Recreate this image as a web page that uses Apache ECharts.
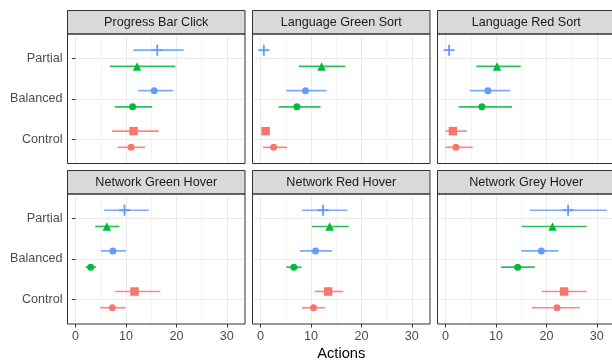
<!DOCTYPE html>
<html><head><meta charset="utf-8">
<script src="https://cdn.jsdelivr.net/npm/echarts@6/dist/echarts.min.js"></script>
<style>html,body{margin:0;padding:0;background:#fff}#c{width:612px;height:361px}</style>
</head><body><div id="c"></div>
<script>
// ---------- data ----------
const facets = ['Progress Bar Click','Language Green Sort','Language Red Sort','Network Green Hover','Network Red Hover','Network Grey Hover'];
const categories = ['Control','Balanced','Partial'];
const xTicks = [0,10,20,30];
const xMinorTicks = [5,15,25];
// [estimate, lower, upper] per facet
const controlLower  = [[11.0,8.4,13.8],[2.6,0.5,5.25],[2.05,0.0,5.4],[7.3,4.9,9.9],[10.5,8.2,12.8],[22.1,17.1,26.6]];
const controlUpper  = [[11.5,7.2,16.5],[1.0,0.7,1.3],[1.45,0.0,4.2],[11.7,7.8,16.8],[13.4,10.8,16.4],[23.5,19.1,28.0]];
const balancedLower = [[11.3,7.8,15.2],[7.2,3.6,11.9],[7.2,2.6,13.2],[3.0,2.0,4.1],[6.6,5.1,8.1],[14.3,11.0,17.7]];
const balancedUpper = [[15.6,12.4,19.3],[8.9,5.1,13.1],[8.4,4.8,12.8],[7.4,5.0,10.0],[10.9,7.8,14.2],[19.0,15.0,22.4]];
const partialLower  = [[12.2,6.8,19.8],[12.1,7.6,16.8],[10.2,6.1,14.9],[6.2,3.9,8.7],[13.7,10.2,17.5],[21.2,15.1,28.0]];
const partialUpper  = [[16.2,11.5,21.4],[0.65,0.45,0.85],[0.7,0.5,0.9],[9.7,5.6,14.5],[12.4,8.2,17.2],[24.3,16.7,32.0]];

// ---------- styling / layout ----------
const RED = '#F8766D', GREEN = '#00BA38', BLUE = '#619CFF';
const PLUS = 'path://M5,0H7V5H12V7H7V12H5V7H0V5H5Z';
const groups = [
  {data: controlLower,  cat: 0, side: -1, color: RED,   symbol: 'circle',   size: 7},
  {data: controlUpper,  cat: 0, side:  1, color: RED,   symbol: 'rect',     size: 8.5},
  {data: balancedLower, cat: 1, side: -1, color: GREEN, symbol: 'circle',   size: 7},
  {data: balancedUpper, cat: 1, side:  1, color: BLUE,  symbol: 'circle',   size: 7},
  {data: partialLower,  cat: 2, side: -1, color: GREEN, symbol: 'triangle', size: 8.5},
  {data: partialUpper,  cat: 2, side:  1, color: BLUE,  symbol: PLUS,       size: 11}
];
const DODGE = 0.2;
const FONT = "'Liberation Sans', Arial, Helvetica, sans-serif";
const colLeft = [67.5, 252.5, 437.5];
const panelW = 177.5;
const rowTop = [34, 194];
const panelH = [129.5, 130];
const stripH = 23.5;
const XMIN = -1.6, XMAX = 33.6;
const FS = 12.6;

const grids = [], xAxes = [], yAxes = [], series = [], graphics = [];
facets.forEach((name, i) => {
  const r = Math.floor(i / 3), c = i % 3;
  const bottom = r === 1, left = c === 0;
  grids.push({left: colLeft[c], top: rowTop[r], width: panelW, height: panelH[r],
    show: true, backgroundColor: '#fff', borderWidth: 0, containLabel: false, outerBoundsMode: 'none'});
  xAxes.push({type: 'value', gridIndex: i, min: XMIN, max: XMAX, position: 'bottom',
    axisLine: {show: false},
    axisTick: {show: bottom, customValues: xTicks, length: 3.5, lineStyle: {color: '#333333', width: 1}},
    axisLabel: {show: bottom, customValues: xTicks, margin: 6, color: '#4D4D4D', fontSize: FS, fontFamily: FONT},
    splitLine: {show: true, lineStyle: {color: '#EBEBEB', width: 1}},
    name: (i === 4) ? 'Actions' : '', nameLocation: 'middle', nameGap: 22,
    nameTextStyle: {color: '#000', fontSize: 14.7, fontFamily: FONT}});
  xAxes.push({type: 'value', gridIndex: i, min: XMIN, max: XMAX, position: 'top',
    axisLine: {show: false}, axisLabel: {show: false},
    axisTick: {show: false, customValues: xMinorTicks},
    splitLine: {show: true, lineStyle: {color: '#F4F4F4', width: 1}}});
  yAxes.push({type: 'value', gridIndex: i, min: 0.4, max: 3.6,
    axisLine: {show: false},
    axisTick: {show: left, customValues: [1,2,3], length: 3.5, lineStyle: {color: '#333333', width: 1}},
    axisLabel: {show: left, customValues: [1,2,3], margin: 5, color: '#4D4D4D', fontSize: FS, fontFamily: FONT,
      formatter: v => categories[Math.round(v) - 1]},
    splitLine: {show: true, lineStyle: {color: '#EBEBEB', width: 1}}});

  groups.forEach(g => {
    const d = g.data[i];
    const y = g.cat + 1 + g.side * DODGE;
    series.push({type: 'custom', xAxisIndex: 2 * i, yAxisIndex: i, silent: true, z: 3,
      encode: {x: [0, 1], y: 2},
      data: [[d[1], d[2], y]],
      renderItem: (params, api) => {
        const p1 = api.coord([api.value(0), api.value(2)]);
        const p2 = api.coord([api.value(1), api.value(2)]);
        return {type: 'line', shape: {x1: p1[0], y1: p1[1], x2: p2[0], y2: p2[1]},
          style: {stroke: g.color, lineWidth: 1.7, opacity: 0.85}};
      }});
    series.push({type: 'scatter', xAxisIndex: 2 * i, yAxisIndex: i, silent: true, z: 4,
      symbol: g.symbol, symbolSize: g.size,
      itemStyle: {color: g.color, opacity: 1},
      data: [[d[0], y]]});
  });

  graphics.push({type: 'rect', shape: {x: colLeft[c], y: rowTop[r] - stripH, width: panelW, height: stripH},
    style: {fill: '#D9D9D9', stroke: '#333333', lineWidth: 1}, z: 100});
  graphics.push({type: 'text', x: colLeft[c] + panelW / 2, y: rowTop[r] - stripH / 2,
    style: {text: name, fill: '#1A1A1A', fontSize: FS, fontFamily: FONT, align: 'center', verticalAlign: 'middle'}, z: 101});
  graphics.push({type: 'rect', shape: {x: colLeft[c], y: rowTop[r], width: panelW, height: panelH[r]},
    style: {fill: 'none', stroke: '#333333', lineWidth: 1}, z: 100});
});

const chart = echarts.init(document.getElementById('c'), null, {renderer: 'canvas'});
chart.setOption({
  animation: false,
  backgroundColor: '#fff',
  grid: grids, xAxis: xAxes, yAxis: yAxes, series: series,
  graphic: {elements: graphics}
});
</script></body></html>
